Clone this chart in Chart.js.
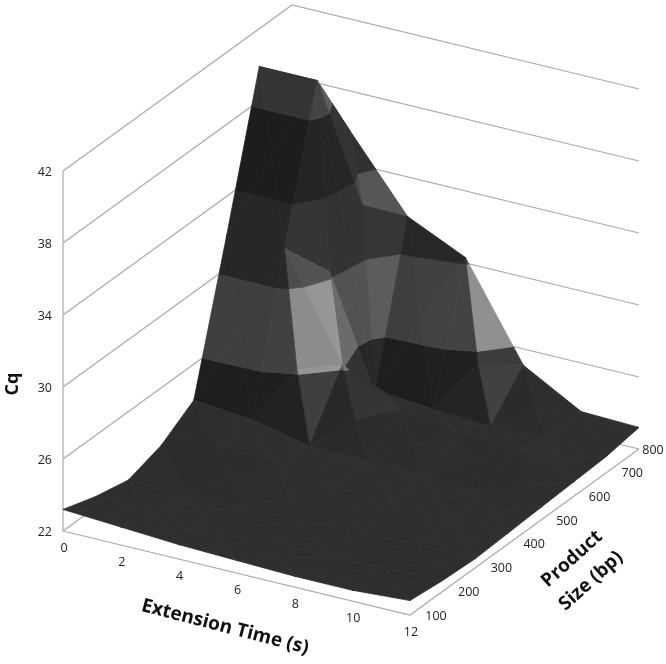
<!DOCTYPE html>
<html>
<head>
<meta charset="utf-8">
<title>Cq surface</title>
<script src="https://cdn.jsdelivr.net/npm/chart.js"></script>
<style>
  html, body { margin: 0; padding: 0; background: #fff; }
  canvas { display: block; }
</style>
</head>
<body>
<canvas id="surface" width="666" height="664"></canvas>
<script>
// Axis values
const extensionTimes = [0, 2, 4, 6, 8, 10, 12];
const productSizes = [100, 200, 300, 400, 500, 600, 700, 800];
const cqTicks = [22, 26, 30, 34, 38, 42];

// Cq, one array per product size, left to right along extension time
const cq100 = [23.2, 23.0, 22.8, 22.7, 22.6, 22.6, 22.8];
const cq200 = [22.6, 22.5, 22.3, 22.4, 22.4, 22.5, 22.6];
const cq300 = [22.2, 22.2, 22.2, 22.3, 22.4, 22.5, 22.5];
const cq400 = [22.8, 23.6, 23.3, 22.8, 22.7, 22.6, 22.6];
const cq500 = [24.0, 23.7, 23.0, 23.0, 22.9, 22.7, 22.7];
const cq600 = [31.8, 31.9, 26.2, 24.5, 24.0, 24.0, 22.8];
const cq700 = [39.9, 39.9, 23.3, 23.2, 23.0, 23.05, 22.9];
const cq800 = [36.0, 35.8, 31.8, 30.3, 25.1, 23.3, 23.2];
const cqRows = [cq100, cq200, cq300, cq400, cq500, cq600, cq700, cq800];

// Per 4-unit band: grey on a face looking straight at the front, and how much highlight it takes
const bandGreys = [29, 62, 38, 28, 51];
const bandShine = [0.7, 0.95, 0.7, 0.2, 0.6];

// Projection of the box onto the page, the picture is a parallel projection
const ORIGIN = { x: 63, y: 531 };
const TIME_VEC = { x: 347, y: 84 };
const SIZE_VEC = { x: 229, y: -166 };
const CQ_PX = 18;
const GRID_COLOR = '#aaaaaa';
const TEXT_COLOR = '#222222';

function project(t, s, z) {
  const ft = (t - extensionTimes[0]) / (extensionTimes[extensionTimes.length - 1] - extensionTimes[0]);
  const fs = (s - productSizes[0]) / (productSizes[productSizes.length - 1] - productSizes[0]);
  return {
    x: ORIGIN.x + ft * TIME_VEC.x + fs * SIZE_VEC.x,
    y: ORIGIN.y + ft * TIME_VEC.y + fs * SIZE_VEC.y - (z - cqTicks[0]) * CQ_PX
  };
}

// Keep the part of a polygon whose z is on one side of a level
function clipLevel(poly, level, keepAbove) {
  const out = [];
  for (let k = 0; k < poly.length; k++) {
    const a = poly[k];
    const b = poly[(k + 1) % poly.length];
    const aIn = keepAbove ? a.z >= level : a.z <= level;
    const bIn = keepAbove ? b.z >= level : b.z <= level;
    if (aIn) out.push(a);
    if (aIn !== bIn) {
      const f = (level - a.z) / (b.z - a.z);
      out.push({ t: a.t + (b.t - a.t) * f, s: a.s + (b.s - a.s) * f, z: level });
    }
  }
  return out;
}

// Flat faces are lighter than steep ones, faces looking along one direction catch a highlight.
// Returns the plain light and the highlight amount, numbers tuned by eye against the picture.
function faceLight(a, b, c) {
  const dt = extensionTimes[1] - extensionTimes[0];
  const ds = productSizes[1] - productSizes[0];
  const u = [(b.t - a.t) / dt, (b.s - a.s) / ds, (b.z - a.z) * 0.25];
  const v = [(c.t - a.t) / dt, (c.s - a.s) / ds, (c.z - a.z) * 0.25];
  let n = [u[1] * v[2] - u[2] * v[1], u[2] * v[0] - u[0] * v[2], u[0] * v[1] - u[1] * v[0]];
  const len = Math.hypot(n[0], n[1], n[2]) || 1;
  n = n.map(p => p / len);
  if (n[2] < 0) n = n.map(p => -p);
  const d = (0.6 * n[0] - 0.5 * n[1] + 0.6 * n[2]) / 0.985;
  const f = Math.max(0, Math.min(1, (d - 0.91) / 0.07));
  return {
    plain: 0.53 + 1.04 * n[2] + 0.15 * n[0] + 0.6 * Math.max(0, n[0] - 0.3) + 1.5 * Math.max(0, n[0]) * Math.max(0, n[1]),
    shine: f * f * (3 - 2 * f)
  };
}

function polygonDataset(points, grey) {
  const v = Math.max(0, Math.min(255, Math.round(grey)));
  const color = `rgb(${v},${v + 1},${v + 1})`;
  const data = points.map(p => project(p.t, p.s, p.z));
  data.push(data[0]);
  return {
    data,
    showLine: true,
    fill: 'shape',
    backgroundColor: color,
    borderColor: color,
    borderWidth: 0.8,
    borderJoinStyle: 'round',
    pointRadius: 0,
    tension: 0
  };
}

function gridDataset(points) {
  return {
    data: points,
    showLine: true,
    fill: false,
    borderColor: GRID_COLOR,
    borderWidth: 1.2,
    pointRadius: 0,
    tension: 0
  };
}

// Walls and floor
const tMin = extensionTimes[0], tMax = extensionTimes[extensionTimes.length - 1];
const sMin = productSizes[0], sMax = productSizes[productSizes.length - 1];
const zMin = cqTicks[0], zMax = cqTicks[cqTicks.length - 1];
const drawList = [];
cqTicks.forEach(z => {
  drawList.push(gridDataset([project(tMin, sMin, z), project(tMin, sMax, z), project(tMax, sMax, z)]));
});
drawList.push(gridDataset([project(tMin, sMin, zMin), project(tMin, sMin, zMax)]));
drawList.push(gridDataset([project(tMin, sMin, zMin), project(tMax, sMin, zMin), project(tMax, sMax, zMin)]));

// Surface, far cells first. Each cell is four triangles around its mean, cut into bands
const cells = [];
for (let i = 0; i < extensionTimes.length - 1; i++) {
  for (let j = 0; j < productSizes.length - 1; j++) cells.push([i, j]);
}
cells.sort((a, b) => (a[0] - a[1]) - (b[0] - b[1]));
cells.forEach(([i, j]) => {
  const corner = (ci, cj) => ({ t: extensionTimes[ci], s: productSizes[cj], z: cqRows[cj][ci] });
  const a = corner(i, j), b = corner(i + 1, j), c = corner(i + 1, j + 1), d = corner(i, j + 1);
  const mid = {
    t: (a.t + b.t) / 2,
    s: (a.s + d.s) / 2,
    z: (a.z + b.z + c.z + d.z) / 4
  };
  [[d, c], [a, d], [b, c], [a, b]].forEach(([p, q]) => {
    const light = faceLight(p, q, mid);
    bandGreys.forEach((grey, band) => {
      let poly = clipLevel([p, q, mid], zMin + band * 4, true);
      if (poly.length) poly = clipLevel(poly, zMin + (band + 1) * 4, false);
      if (poly.length >= 3) drawList.push(polygonDataset(poly, grey * (light.plain + bandShine[band] * light.shine)));
    });
  });
});

// Chart.js paints the lowest order last
drawList.forEach((ds, idx) => { ds.order = -idx; });

// Tick labels and titles sit on the projected box
const boxLabels = {
  id: 'boxLabels',
  afterDraw(chart) {
    const { ctx, scales } = chart;
    const at = p => ({ x: scales.x.getPixelForValue(p.x), y: scales.y.getPixelForValue(p.y) });
    ctx.save();
    ctx.fillStyle = TEXT_COLOR;
    ctx.textBaseline = 'middle';
    ctx.font = '12.5px "Open Sans"';

    ctx.textAlign = 'right';
    cqTicks.forEach(z => {
      const p = at(project(tMin, sMin, z));
      ctx.fillText(String(z), p.x - 11, p.y + 1);
    });

    ctx.textAlign = 'center';
    extensionTimes.forEach(t => {
      const p = at(project(t, sMin, zMin));
      ctx.fillText(String(t), p.x + 1, p.y + 17);
    });

    productSizes.forEach(s => {
      const p = at(project(tMax, s, zMin));
      ctx.fillText(String(s), Math.min(p.x + 26, 653), p.y + 1);
    });

    const title = (text, x, y, deg, font) => {
      ctx.save();
      ctx.translate(x, y);
      ctx.rotate(deg * Math.PI / 180);
      ctx.font = font;
      ctx.fillStyle = '#111111';
      ctx.fillText(text, 0, 0);
      ctx.restore();
    };
    title('Cq', 13, 384, -90, 'bold 18px "Open Sans"');
    title('Extension Time (s)', 225, 627, 14.5, 'bold 19px "Open Sans"');
    title('Product', 572, 559, -42, 'bold 19px "Open Sans"');
    title('Size (bp)', 591, 581, -42, 'bold 19px "Open Sans"');
    ctx.restore();
  }
};

new Chart(document.getElementById('surface'), {
  type: 'scatter',
  data: { datasets: drawList },
  plugins: [boxLabels],
  options: {
    responsive: false,
    animation: false,
    layout: { padding: 0 },
    plugins: { legend: { display: false }, tooltip: { enabled: false } },
    scales: {
      x: { type: 'linear', min: 0, max: 666, display: false },
      y: { type: 'linear', min: 0, max: 664, reverse: true, display: false }
    }
  }
});
</script>
</body>
</html>
